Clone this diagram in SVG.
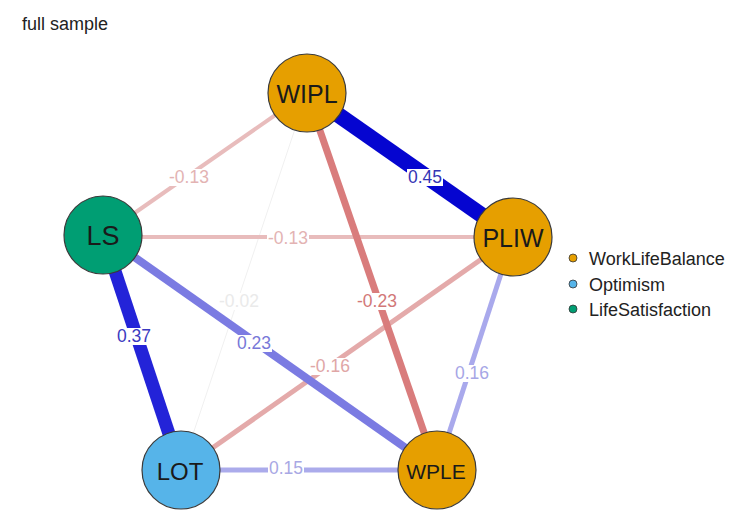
<svg xmlns="http://www.w3.org/2000/svg" width="750" height="511" viewBox="0 0 750 511">
<style>
.node circle{stroke:#3a3a3a;stroke-width:1.2}
.node text{font-family:"Liberation Sans",Arial,sans-serif;fill:#1a1a1a;text-anchor:middle;dominant-baseline:central}
.edge line{stroke-linecap:butt}
.lbl rect{fill:#fff}
.lbl text{font-family:"Liberation Sans",Arial,sans-serif;font-size:17.5px;text-anchor:middle;dominant-baseline:central}
.leg{font-family:"Liberation Sans",Arial,sans-serif;font-size:18px;fill:#222}
.wlb{fill:#E69F00}.opt{fill:#56B4E9}.ls{fill:#009E73}
</style>
<rect width="750" height="511" fill="#fff"/>
<text x="22" y="30" class="leg" font-size="18.5">full sample</text>
<g id="connectors">
  <g class="edge">
    <line x1="307" y1="93" x2="181" y2="470" stroke="#F0F0F0" stroke-width="1"/>
    <line x1="307" y1="93" x2="103" y2="235" stroke="#E8BCBC" stroke-width="4"/>
    <line x1="103" y1="237" x2="513" y2="237" stroke="#E8BCBC" stroke-width="4"/>
    <line x1="513" y1="237" x2="181" y2="470" stroke="#E4AAAA" stroke-width="5"/>
    <line x1="307" y1="93" x2="437" y2="470" stroke="#D97C7C" stroke-width="7"/>
    <line x1="181" y1="470" x2="437" y2="470" stroke="#ABABEB" stroke-width="5"/>
    <line x1="513" y1="237" x2="437" y2="470" stroke="#A9A9EC" stroke-width="5"/>
    <line x1="103" y1="235" x2="437" y2="470" stroke="#7B7BE2" stroke-width="8"/>
    <line x1="103" y1="235" x2="181" y2="470" stroke="#2323D8" stroke-width="13"/>
    <line x1="307" y1="93" x2="513" y2="237" stroke="#0505D0" stroke-width="16"/>
  </g>
  <g class="lbl">
    <rect x="168" y="169" width="42" height="17"/><text x="189" y="177" fill="#E3B3B3">-0.13</text>
    <rect x="407" y="169" width="36" height="17"/><text x="425" y="177" fill="#3535B5">0.45</text>
    <rect x="267" y="230" width="42" height="17"/><text x="288" y="238" fill="#E3B3B3">-0.13</text>
    <rect x="218" y="293" width="42" height="17"/><text x="239" y="301" fill="#EAEAEA">-0.02</text>
    <rect x="356" y="293" width="42" height="17"/><text x="377" y="301" fill="#D27878">-0.23</text>
    <rect x="236" y="335" width="36" height="17"/><text x="254" y="343" fill="#7878D8">0.23</text>
    <rect x="309" y="358" width="42" height="17"/><text x="330" y="366" fill="#E0A6A6">-0.16</text>
    <rect x="116" y="328" width="36" height="17"/><text x="134" y="336" fill="#3A3AC0">0.37</text>
    <rect x="454" y="365" width="36" height="17"/><text x="472" y="373" fill="#A6A6E6">0.16</text>
    <rect x="268" y="460" width="36" height="17"/><text x="286" y="468" fill="#A8A8E4">0.15</text>
  </g>
</g>
<g id="node-WIPL" class="node"><circle cx="307" cy="93" r="39" class="wlb"/><text x="307" y="94" font-size="25">WIPL</text></g>
<g id="node-LS" class="node"><circle cx="103" cy="235" r="39" class="ls"/><text x="103" y="236" font-size="27">LS</text></g>
<g id="node-PLIW" class="node"><circle cx="513" cy="237" r="39" class="wlb"/><text x="513" y="238" font-size="25">PLIW</text></g>
<g id="node-LOT" class="node"><circle cx="181" cy="470" r="39" class="opt"/><text x="180" y="471" font-size="24">LOT</text></g>
<g id="node-WPLE" class="node"><circle cx="437" cy="470" r="39" class="wlb"/><text x="436" y="471" font-size="21">WPLE</text></g>
<g id="legend">
  <circle cx="573" cy="258" r="4" class="wlb" stroke="#333" stroke-width="0.8"/><text x="589" y="265" class="leg">WorkLifeBalance</text>
  <circle cx="573" cy="284" r="4" class="opt" stroke="#333" stroke-width="0.8"/><text x="589" y="291" class="leg">Optimism</text>
  <circle cx="573" cy="309" r="4" class="ls" stroke="#333" stroke-width="0.8"/><text x="589" y="316" class="leg">LifeSatisfaction</text>
</g>
</svg>
